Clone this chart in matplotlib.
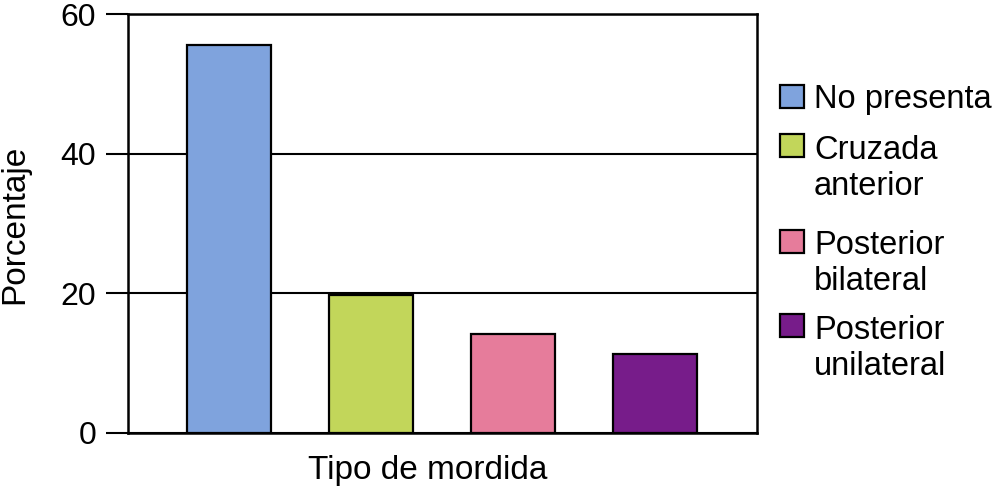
import matplotlib
matplotlib.use("Agg")
import matplotlib.pyplot as plt
from matplotlib.patches import Rectangle

plt.rcParams['font.family'] = ['Liberation Sans', 'DejaVu Sans']

# datos
categorias = ["No presenta", "Cruzada\nanterior", "Posterior\nbilateral", "Posterior\nunilateral"]
porcentajes = [55.6, 19.8, 14.2, 11.3]
colores = ["#7fa3dd", "#c2d65a", "#e67c9b", "#771c8a"]
yticks = [0, 20, 40, 60]

W, H = 1003, 492
fig = plt.figure(figsize=(W / 100, H / 100), dpi=100)
ax = fig.add_axes([128 / W, 1 - 433 / H, (757 - 128) / W, (433 - 14) / H])

x = range(len(porcentajes))
ax.bar(x, porcentajes, width=0.592, color=colores, edgecolor="black", linewidth=1.6, zorder=3)

ax.set_xlim(-0.715, 3.718)
ax.set_ylim(0, 60)
ax.set_yticks(yticks)
ax.set_xticks([])
ax.yaxis.grid(True, color="black", linewidth=1.5, zorder=0)
ax.set_axisbelow(True)
ax.tick_params(axis="y", direction="out", length=16, width=1.5, pad=7, labelsize=23)
for s in ax.spines.values():
    s.set_linewidth(1.8)

ax.set_xlabel("Tipo de mordida", fontsize=24)
ax.xaxis.set_label_coords((428 - 128) / 629, (433 - 455) / 419)
ax.set_ylabel("Porcentaje", fontsize=24)
ax.yaxis.set_label_coords((30 - 128) / 629, (433 - 224) / 419)

# leyenda a mano: cuadro alineado con la primera linea, texto con la ultima
cuadro_base = [108, 157, 253, 337]
texto_base = [108, 195, 290, 375]
for lab, col, b, t in zip(categorias, colores, cuadro_base, texto_base):
    fig.add_artist(Rectangle((780 / W, 1 - b / H), 24 / W, 23 / H, transform=fig.transFigure,
                             facecolor=col, edgecolor="black", linewidth=1.6))
    fig.text(814 / W, 1 - t / H, lab, fontsize=23.5, va="baseline", ha="left", linespacing=1.2)

fig.savefig("out.png", dpi=100)
